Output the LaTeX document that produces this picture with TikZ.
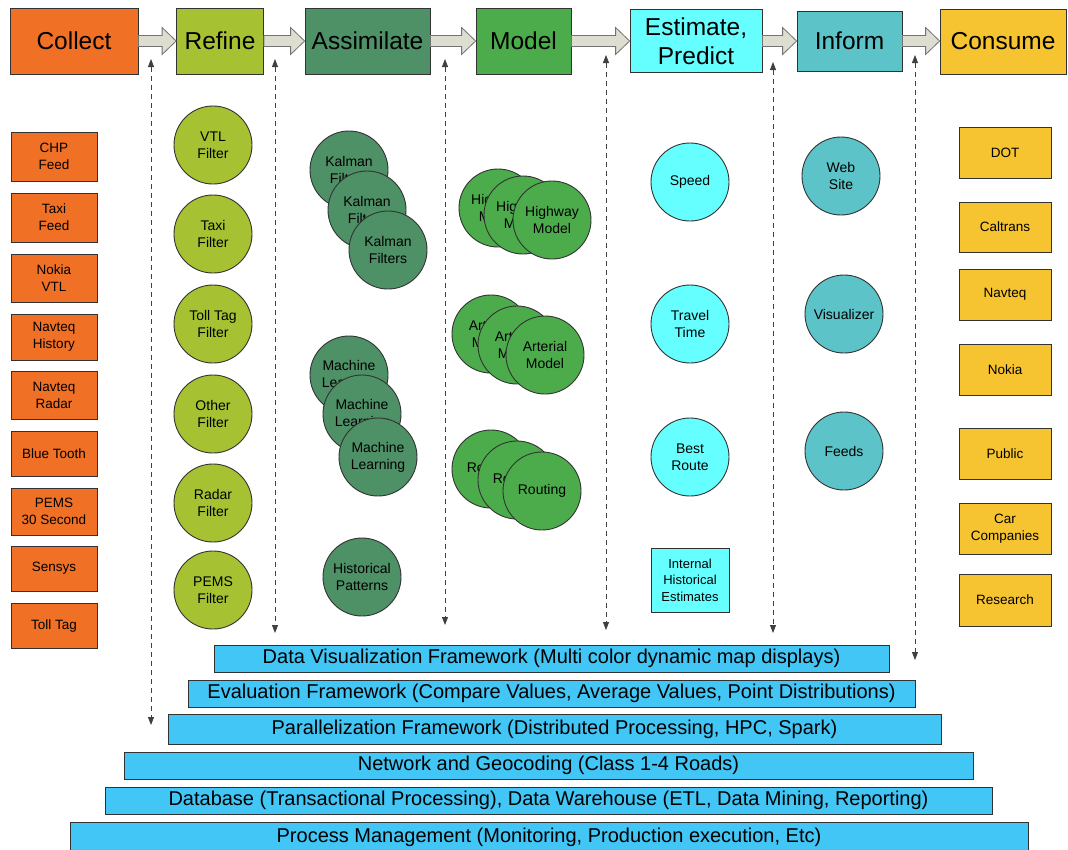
\documentclass[tikz,border=0pt]{standalone}
\usepackage{fontspec}
\setmainfont{Liberation Sans}
\usetikzlibrary{arrows.meta,calc}
\definecolor{cCollect}{RGB}{240,112,38}
\definecolor{cRefine}{RGB}{166,194,50}
\definecolor{cAssim}{RGB}{78,145,102}
\definecolor{cModel}{RGB}{76,172,76}
\definecolor{cEstim}{RGB}{102,255,255}
\definecolor{cInform}{RGB}{92,196,200}
\definecolor{cConsume}{RGB}{246,196,49}
\definecolor{cBar}{RGB}{66,198,246}
\definecolor{cArrow}{RGB}{221,222,208}
\definecolor{cEdge}{RGB}{50,50,50}
\begin{document}
\begin{tikzpicture}[x=1pt,y=-1pt,
  box/.style={draw=cEdge, line width=0.8pt, inner sep=0pt, align=center, font=\fontsize{13.5}{17}\selectfont},
  hdr/.style={draw=cEdge, line width=0.8pt, inner sep=0pt, align=center, font=\fontsize{24.5}{29}\selectfont},
  circ/.style={circle, draw=cEdge, line width=0.9pt, minimum size=78pt, inner sep=0pt, align=center, font=\fontsize{14}{17}\selectfont},
  bar/.style={draw=cEdge, line width=0.7pt, fill=cBar, inner sep=0pt, font=\fontsize{20}{22}\selectfont},
  harrow/.style={draw=black!55, line width=0.8pt, fill=cArrow},
  dline/.style={draw=black!75, line width=0.8pt, dash pattern=on 5pt off 4pt, {Triangle[length=8pt,width=6pt]}-{Triangle[length=8pt,width=6pt]}}
]
\useasboundingbox (0,0) rectangle (1068,849);
\fill[white] (0,0) rectangle (1068,849);

% header boxes
\node[hdr, fill=cCollect, minimum width=128pt, minimum height=66pt] (collect) at (74,41) {Collect};
\node[hdr, fill=cRefine, minimum width=87pt, minimum height=66pt] (refine) at (220,41) {Refine};
\node[hdr, fill=cAssim, minimum width=125pt, minimum height=66pt] (assim) at (367.5,41) {Assimilate};
\node[hdr, fill=cModel, minimum width=95pt, minimum height=66pt] (model) at (523.5,41) {Model};
\node[hdr, fill=cEstim, minimum width=132pt, minimum height=63pt] (estim) at (696,41) {Estimate,\\Predict};
\node[hdr, fill=cInform, minimum width=105pt, minimum height=60pt] (inform) at (849.5,41) {Inform};
\node[hdr, fill=cConsume, minimum width=126pt, minimum height=65pt] (consume) at (1003,41.5) {Consume};

\foreach \a/\b in {collect/refine, refine/assim, assim/model, model/estim, estim/inform, inform/consume}{
  \path[harrow] let \p1=(\a.east), \p2=(\b.west) in
    (\x1,\y1+5.5pt) -- (\x2-14pt,\y1+5.5pt) -- (\x2-14pt,\y1+13.5pt) -- (\x2,\y1) --
    (\x2-14pt,\y1-13.5pt) -- (\x2-14pt,\y1-5.5pt) -- (\x1,\y1-5.5pt) -- cycle;
}

% collect column
\node[box, fill=cCollect, minimum width=86pt, minimum height=49pt] (chp) at (54,156.5) {CHP\\Feed};
\node[box, fill=cCollect, minimum width=86pt, minimum height=49pt] (taxi) at (54,217.5) {Taxi\\Feed};
\node[box, fill=cCollect, minimum width=86pt, minimum height=48pt] (nokiavtl) at (54,278) {Nokia\\VTL};
\node[box, fill=cCollect, minimum width=86pt, minimum height=46pt] (navhist) at (54,337) {Navteq\\History};
\node[box, fill=cCollect, minimum width=86pt, minimum height=48pt] (navradar) at (54,395) {Navteq\\Radar};
\node[box, fill=cCollect, minimum width=86pt, minimum height=45pt] (bluetooth) at (54,453.5) {Blue Tooth};
\node[box, fill=cCollect, minimum width=86pt, minimum height=47pt] (pems30) at (54,511.5) {PEMS\\30 Second};
\node[box, fill=cCollect, minimum width=86pt, minimum height=45pt] (sensys) at (54,568.5) {Sensys};
\node[box, fill=cCollect, minimum width=86pt, minimum height=45pt] (tolltag) at (54,625.5) {Toll Tag};

% refine column
\node[circ, fill=cRefine] (vtlf) at (213,145) {VTL\\Filter};
\node[circ, fill=cRefine] (taxif) at (213,234) {Taxi\\Filter};
\node[circ, fill=cRefine] (tollf) at (213,324) {Toll Tag\\Filter};
\node[circ, fill=cRefine] (otherf) at (213,414) {Other\\Filter};
\node[circ, fill=cRefine] (radarf) at (213,503) {Radar\\Filter};
\node[circ, fill=cRefine] (pemsf) at (213,590) {PEMS\\Filter};

% assimilate column
\node[circ, fill=cAssim] (k1) at (349,170) {Kalman\\Filters};
\node[circ, fill=cAssim] (k2) at (367,210) {Kalman\\Filters};
\node[circ, fill=cAssim] (k3) at (388,250) {Kalman\\Filters};
\node[circ, fill=cAssim] (m1) at (349,375) {Machine\\Learning};
\node[circ, fill=cAssim] (m2) at (362,414) {Machine\\Learning};
\node[circ, fill=cAssim] (m3) at (378,457) {Machine\\Learning};
\node[circ, fill=cAssim] (hist) at (362,577) {Historical\\Patterns};

% model column
\node[circ, fill=cModel] (h1) at (498,208) {Highway\\Model};
\node[circ, fill=cModel] (h2) at (523,215) {Highway\\Model};
\node[circ, fill=cModel] (h3) at (552,220) {Highway\\Model};
\node[circ, fill=cModel] (a1) at (491,334) {Arterial\\Model};
\node[circ, fill=cModel] (a2) at (517,345) {Arterial\\Model};
\node[circ, fill=cModel] (a3) at (545,355) {Arterial\\Model};
\node[circ, fill=cModel] (r1) at (491,469) {Routing};
\node[circ, fill=cModel] (r2) at (517,480) {Routing};
\node[circ, fill=cModel] (r3) at (542,491) {Routing};

% estimate column
\node[circ, fill=cEstim] (speed) at (690,182) {Speed};
\node[circ, fill=cEstim] (travel) at (690,324) {Travel\\Time};
\node[circ, fill=cEstim] (best) at (690,457) {Best\\Route};
\node[box, fill=cEstim, minimum width=78pt, minimum height=64pt, font=\fontsize{13}{16.5}\selectfont] (internal) at (690,580) {Internal\\Historical\\Estimates};

% inform column
\node[circ, fill=cInform] (web) at (841,176) {Web\\Site};
\node[circ, fill=cInform] (vis) at (844,314) {Visualizer};
\node[circ, fill=cInform] (feeds) at (844,451) {Feeds};

% consume column
\node[box, fill=cConsume, minimum width=92pt, minimum height=51pt] (dot) at (1005,152.5) {DOT};
\node[box, fill=cConsume, minimum width=92pt, minimum height=50pt] (caltrans) at (1005,227) {Caltrans};
\node[box, fill=cConsume, minimum width=92pt, minimum height=51pt] (navteq) at (1005,294.5) {Navteq};
\node[box, fill=cConsume, minimum width=92pt, minimum height=51pt] (nokia) at (1005,369.5) {Nokia};
\node[box, fill=cConsume, minimum width=92pt, minimum height=51pt] (public) at (1005,453.5) {Public};
\node[box, fill=cConsume, minimum width=92pt, minimum height=51pt] (carco) at (1005,528.5) {Car\\Companies};
\node[box, fill=cConsume, minimum width=92pt, minimum height=52pt] (research) at (1005,600) {Research};

% bottom bars
\node[bar, minimum width=675pt, minimum height=27pt] (dataviz) at (551.5,658.5) {Data Visualization Framework (Multi color dynamic map displays)};
\node[bar, minimum width=727pt, minimum height=27pt] (eval) at (551.5,693.5) {Evaluation Framework (Compare Values, Average Values, Point Distributions)};
\node[bar, minimum width=773pt, minimum height=30pt] (par) at (554.5,729) {Parallelization Framework (Distributed Processing, HPC, Spark)};
\node[bar, minimum width=849pt, minimum height=27pt] (net) at (548.5,765.5) {Network and Geocoding (Class 1-4 Roads)};
\node[bar, minimum width=887pt, minimum height=27pt] (db) at (548.5,800.5) {Database (Transactional Processing), Data Warehouse (ETL, Data Mining, Reporting)};
\node[bar, minimum width=958pt, minimum height=30pt] (proc) at (549,837) {Process Management (Monitoring, Production execution, Etc)};

% dashed connectors
\coordinate (d1t) at (151,59);  \coordinate (d1b) at (151,725);
\coordinate (d2t) at (275,59);  \coordinate (d2b) at (275,633);
\coordinate (d3t) at (445,59);  \coordinate (d3b) at (445,625);
\coordinate (d4t) at (606,55);  \coordinate (d4b) at (606,630);
\coordinate (d5t) at (773,62);  \coordinate (d5b) at (773,633);
\coordinate (d6t) at (915,55);  \coordinate (d6b) at (915,660);
\foreach \i in {1,...,6}{ \draw[dline] (d\i t) -- (d\i b); }
\end{tikzpicture}
\end{document}
